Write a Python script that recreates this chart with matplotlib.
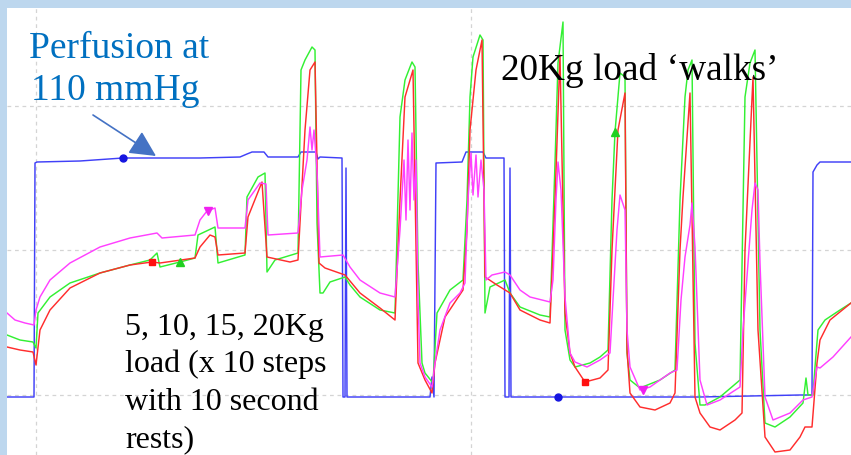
import matplotlib
matplotlib.use("Agg")
import matplotlib.pyplot as plt

# ---- data (time in samples, level above baseline) ----
blue_t = [7, 34, 35, 37, 80, 123, 200, 240, 247, 252, 264, 268, 298, 301, 316, 318, 320, 342, 343, 345,
          346, 347, 430, 432, 434, 436, 462, 466, 483, 486, 504, 505, 509, 510, 511, 558, 700, 800, 812,
          813, 817, 820, 851]
blue_v = [-2, -2, 232, 233, 234, 237, 237, 238, 241, 243, 243, 238, 238, 243, 243, 236, 238, 237, -2, -2,
          227, -2, -2, 18, -2, 232, 233, 243, 243, 237, 237, -2, -2, 227, -2, -2, -2, 0, 0,
          223, 230, 233, 233]

mag_t = [7, 15, 25, 34, 36, 40, 50, 70, 100, 130, 157, 162, 195, 200, 207, 215, 218, 245, 248, 260, 266,
         268, 298, 302, 307, 310, 312, 314, 317, 320, 343, 350, 360, 380, 395, 400, 404, 406, 408, 410,
         412, 414, 416, 418, 420, 425, 432, 435, 440, 450, 460, 465, 468, 471, 473, 476, 478, 481, 484,
         486, 492, 505, 510, 520, 530, 550, 553, 556, 558, 561, 565, 570, 575, 587, 600, 610, 613, 617,
         620, 625, 627, 630, 640, 650, 670, 677, 681, 685, 690, 692, 695, 700, 707, 720, 740, 743, 748,
         752, 755, 758, 760, 765, 773, 790, 803, 812, 817, 820, 833, 851]
mag_v = [82, 75, 72, 70, 85, 98, 115, 132, 148, 157, 162, 157, 160, 175, 184, 187, 167, 167, 195, 212, 211,
         160, 162, 205, 235, 268, 245, 265, 225, 138, 140, 128, 115, 102, 98, 165, 235, 175, 255, 185,
         262, 195, 235, 95, 32, 18, 8, 32, 65, 92, 102, 112, 195, 242, 200, 240, 198, 235, 205,
         115, 120, 123, 120, 105, 98, 93, 115, 195, 233, 205, 98, 42, 33, 28, 35, 42, 95, 165,
         200, 185, 65, 28, 5, 8, 22, 25, 95, 138, 170, 192, 148, 15, -10, -5, 8, 65, 132,
         185, 212, 205, 132, -2, -25, -18, -5, -2, 28, 27, 38, 58]

grn_t = [7, 20, 33, 36, 38, 50, 70, 100, 130, 150, 157, 160, 180, 195, 198, 215, 218, 245, 247, 258, 265,
         267, 275, 298, 301, 305, 312, 315, 317, 320, 323, 330, 345, 350, 360, 380, 395, 400, 405, 410,
         412, 415, 418, 422, 425, 433, 437, 450, 463, 467, 470, 473, 480, 483, 485, 490, 505, 510, 520,
         540, 550, 555, 558, 563, 565, 570, 575, 590, 600, 608, 612, 615, 620, 625, 627, 630, 640, 660,
         675, 680, 685, 688, 692, 695, 700, 705, 720, 740, 745, 750, 755, 760, 765, 775, 790, 803, 806,
         808, 813, 815, 818, 825, 840, 851]
grn_v = [60, 55, 53, 47, 82, 98, 112, 122, 130, 135, 142, 128, 133, 137, 160, 168, 132, 140, 198, 218, 222,
         123, 135, 142, 325, 335, 348, 345, 172, 102, 102, 113, 118, 110, 98, 85, 82, 278, 315, 328,
         333, 328, 132, 32, 22, 12, 82, 105, 115, 195, 298, 338, 360, 355, 82, 108, 115, 102, 88,
         80, 78, 232, 332, 373, 65, 35, 28, 32, 38, 45, 195, 263, 322, 318, 42, 15, 7, 15,
         25, 195, 298, 325, 335, 52, -10, -10, -2, 15, 298, 332, 345, 65, -28, -32, -22, -8, 17,
         0, 0, 28, 65, 75, 85, 92]

red_t = [7, 20, 33, 36, 40, 50, 70, 100, 130, 152, 160, 195, 200, 210, 215, 218, 245, 248, 262, 267, 290,
         298, 305, 310, 315, 319, 325, 345, 360, 380, 395, 400, 405, 413, 418, 425, 432, 435, 445, 463,
         467, 470, 476, 482, 485, 497, 510, 520, 540, 550, 555, 560, 565, 570, 575, 585, 600, 608, 612,
         618, 625, 627, 630, 640, 655, 670, 675, 680, 683, 690, 695, 700, 710, 720, 735, 742, 745, 753,
         758, 765, 775, 790, 800, 805, 812, 817, 820, 830, 851]
red_v = [48, 45, 43, 30, 65, 85, 107, 122, 130, 133, 132, 137, 148, 160, 158, 140, 142, 178, 213, 138, 133,
         135, 265, 325, 333, 132, 127, 120, 102, 87, 75, 195, 298, 325, 32, 15, 2, 32, 78, 105,
         165, 265, 325, 355, 118, 110, 102, 85, 75, 72, 195, 340, 82, 42, 28, 13, 17, 25, 145,
         265, 302, 45, 2, -12, -15, -8, 2, 145, 198, 302, -2, -18, -32, -35, -25, -18, 145, 318,
         65, -42, -57, -55, -42, -32, -32, 32, 55, 75, 92]

# trace markers
blue_mk_t, blue_mk_v = [123, 558], [237, -2]
red_mk_t, red_mk_v = [152, 585], [133, 13]
grn_mk_t, grn_mk_v = [180, 615], [133, 263]
mag_mk_t, mag_mk_v = [208, 643], [184, 5]

grid_x = [36, 471]
grid_y = [0, 145, 289]

# ---- figure ----
W, H = 851, 455
fig = plt.figure(figsize=(W / 100, H / 100), dpi=100, facecolor="#BDD7EE")
ax = fig.add_axes([7 / W, 0, (W - 7) / W, (H - 8) / H])
ax.set_facecolor("white")
ax.set_xlim(7, 851)
ax.set_ylim(-60, 387)

ax.set_xticks(grid_x)
ax.set_yticks(grid_y)
ax.grid(True, color="#D4D4D4", linestyle=(0, (3, 3)), linewidth=0.9)
ax.tick_params(length=0, labelbottom=False, labelleft=False)
for s in ax.spines.values():
    s.set_visible(False)

lw = 1.05
ax.plot(blue_t, blue_v, color="#4040F8", lw=lw, zorder=3)
ax.plot(grn_t, grn_v, color="#33F033", lw=lw, zorder=4)
ax.plot(red_t, red_v, color="#FF2D2D", lw=lw, zorder=5)
ax.plot(mag_t, mag_v, color="#FF40FF", lw=lw, zorder=6)

ax.plot(blue_mk_t, blue_mk_v, "o", color="#1515E0", ms=5, zorder=7)
ax.plot(red_mk_t, red_mk_v, "s", color="#FF1010", ms=5, zorder=7)
ax.plot(grn_mk_t, grn_mk_v, "^", color="#20D020", ms=6, zorder=7)
ax.plot(mag_mk_t, mag_mk_v, "v", color="#F020F0", ms=6, zorder=7)

serif = ["Liberation Serif", "DejaVu Serif"]
ax.text(29, 395 - 58, "Perfusion at", fontsize=27, family=serif, color="#0070C0", va="baseline", zorder=8)
ax.text(31, 395 - 100, "110 mmHg", fontsize=27, family=serif, color="#0070C0", va="baseline", zorder=8)

ax.text(501, 395 - 80, "20Kg load \u2018walks\u2019", fontsize=26.8, family=serif, color="black",
        va="baseline", zorder=8)

lines = ["5, 10, 15, 20Kg", "load (x 10 steps", "with 10 second", "rests)"]
bases = [335, 372, 410, 447]
for s, b in zip(lines, bases):
    ax.text(125, 395 - b, s, fontsize=23, family=serif, color="black", va="baseline", zorder=8)

ax.annotate("", xy=(156, 395 - 156), xytext=(93, 395 - 115),
            arrowprops=dict(arrowstyle="-|>,head_length=0.8,head_width=0.4", color="#4472C4",
                            lw=1.2, mutation_scale=20, shrinkA=0, shrinkB=0), zorder=8)

fig.savefig("out.png", dpi=100, facecolor=fig.get_facecolor())
